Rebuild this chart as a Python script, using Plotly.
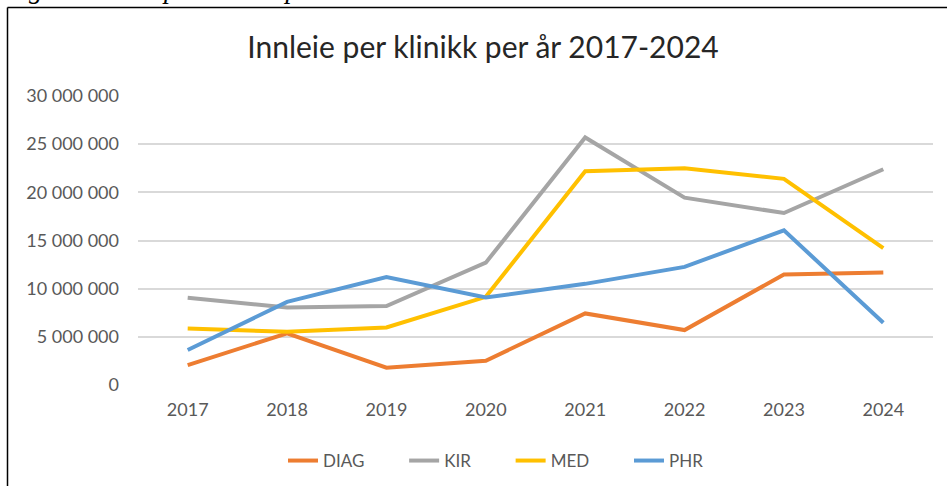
import plotly.graph_objects as go

years = ["2017", "2018", "2019", "2020", "2021", "2022", "2023", "2024"]
diag = [2070000, 5360000, 1800000, 2520000, 7430000, 5700000, 11470000, 11680000]
kir = [9050000, 8050000, 8200000, 12700000, 25700000, 19450000, 17850000, 22400000]
med = [5870000, 5530000, 5980000, 9150000, 22200000, 22500000, 21400000, 14200000]
phr = [3630000, 8630000, 11200000, 9080000, 10500000, 12260000, 16060000, 6460000]

series_names = ["DIAG", "KIR", "MED", "PHR"]
series_values = [diag, kir, med, phr]
colors = ["#ED7D31", "#A5A5A5", "#FFC000", "#5B9BD5"]

FONT = "Lato"
W, H = 947, 486
L, R, T, B = 138, 933, 96, 385

PAD = "&nbsp;" * 8

fig = go.Figure()
for name, vals, col in zip(series_names, series_values, colors):
    fig.add_trace(go.Scatter(x=years, y=vals, name=name + PAD, mode="lines",
                             line=dict(color=col, width=4)))

def px_x(px):
    return (px - L) / (R - L)

def px_y(py):
    return (B - py) / (B - T)

fig.update_layout(
    width=W, height=H,
    margin=dict(l=L, r=W - R, t=T, b=H - B, pad=0),
    paper_bgcolor="white", plot_bgcolor="white",
    separators=", ",
    font=dict(family=FONT, color="#595959", size=18),
    title=dict(text="Innleie per klinikk per år 2017-2024", x=483 / W, xanchor="center",
               xref="container", y=1 - 47 / H, yanchor="middle", yref="container",
               font=dict(family=FONT, size=30, color="#262626")),
    showlegend=True,
    legend=dict(orientation="h", xref="container", x=283 / W, xanchor="left",
                yref="container", y=1 - 461 / H, yanchor="middle",
                font=dict(family=FONT, size=17, color="#595959"),
                itemwidth=30, tracegroupgap=0),
    xaxis=dict(type="category", showgrid=False, zeroline=False, showline=False,
               ticks="", ticklabelstandoff=12, range=[-0.5, 7.5]),
    yaxis=dict(range=[0, 30000000], dtick=5000000, tickformat=",d",
               showgrid=True, gridcolor="#D9D9D9", gridwidth=1.5,
               zeroline=False, showline=False, ticks="", ticklabelstandoff=18),
)

# outer frame (top and left edges visible in the crop)
fig.add_shape(type="line", xref="paper", yref="paper",
              x0=px_x(7.5), x1=px_x(W + 5), y0=px_y(7.5), y1=px_y(7.5),
              line=dict(color="black", width=1.5))
fig.add_shape(type="line", xref="paper", yref="paper",
              x0=px_x(7.5), x1=px_x(7.5), y0=px_y(7.5), y1=px_y(H + 5),
              line=dict(color="black", width=1.5))

# cropped caption above the frame
fig.add_annotation(text="<i>Figur: Innleie per klinikk per år 2017 – 2024</i>",
                   xref="paper", yref="paper", x=px_x(2), y=px_y(6),
                   xanchor="left", yanchor="bottom", showarrow=False,
                   font=dict(family="Liberation Serif", size=27, color="black"))

fig.write_html("out.html", config={"displayModeBar": False},
               post_script="document.body.style.margin='0';")
